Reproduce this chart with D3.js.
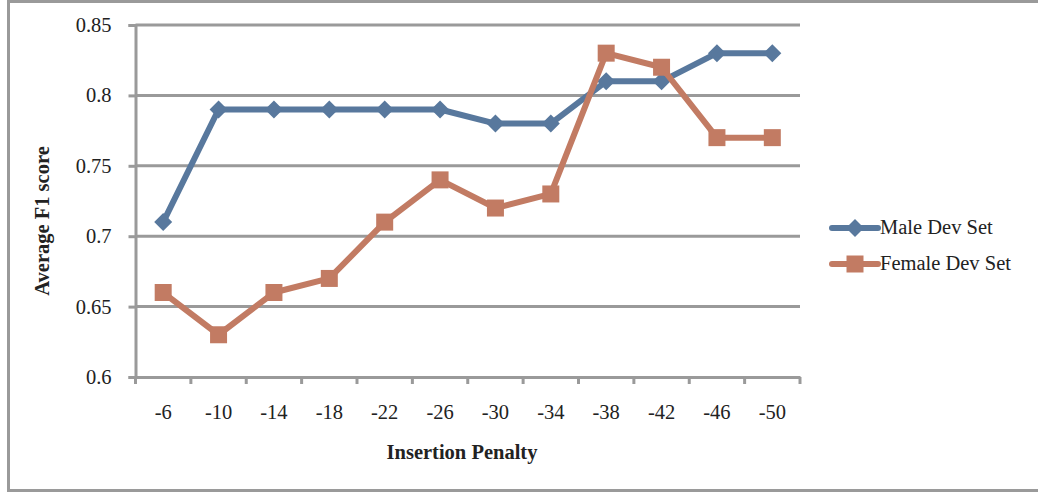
<!DOCTYPE html>
<html>
<head>
<meta charset="utf-8">
<script src="https://cdn.jsdelivr.net/npm/d3@7"></script>
<style>
  html, body { margin: 0; padding: 0; background: #fff; }
  svg { display: block; }
  svg text { font-family: "Liberation Serif", "Times New Roman", serif; }
</style>
</head>
<body>
<svg id="chart" width="1038" height="494"></svg>
<script>
// Insertion penalty settings along the x axis
const categories = ["-6", "-10", "-14", "-18", "-22", "-26", "-30", "-34", "-38", "-42", "-46", "-50"];
// Average F1 per development set
const maleValues   = [0.71, 0.79, 0.79, 0.79, 0.79, 0.79, 0.78, 0.78, 0.81, 0.81, 0.83, 0.83];
const femaleValues = [0.66, 0.63, 0.66, 0.67, 0.71, 0.74, 0.72, 0.73, 0.83, 0.82, 0.77, 0.77];
const yTicks = [0.6, 0.65, 0.7, 0.75, 0.8, 0.85];
const seriesNames = ["Male Dev Set", "Female Dev Set"];

const svg = d3.select("#chart");
const gray = "#9a9a9a";
const ink = "#222";
const fontSize = 20.5;
const colors = ["#58789d", "#c27b63"];

// chart frame
svg.append("rect")
  .attr("x", 8.5).attr("y", 1.5).attr("width", 1040).attr("height", 489)
  .attr("fill", "none").attr("stroke", gray).attr("stroke-width", 3);

const plot = { left: 135.5, right: 800, top: 25, bottom: 377 };

const x = d3.scaleBand().domain(categories).range([plot.left, plot.right]);
const y = d3.scaleLinear().domain([0.6, 0.85]).range([plot.bottom, plot.top]);

// horizontal gridlines
svg.append("g").selectAll("line").data(yTicks.slice(1)).join("line")
  .attr("x1", plot.left).attr("x2", plot.right)
  .attr("y1", d => y(d)).attr("y2", d => y(d))
  .attr("stroke", gray).attr("stroke-width", 3);

// y axis
const yAxis = svg.append("g")
  .attr("transform", `translate(${plot.left},0)`)
  .call(d3.axisLeft(y).tickValues(yTicks).tickFormat(d => String(+d.toFixed(2))).tickSize(7).tickPadding(17));
yAxis.attr("font-family", null).attr("font-size", null);
yAxis.select(".domain").attr("stroke", gray).attr("stroke-width", 3);
yAxis.selectAll(".tick line").attr("stroke", gray).attr("stroke-width", 3);
yAxis.selectAll(".tick text").style("font-size", fontSize + "px").attr("fill", ink);

// x axis
const xAxis = svg.append("g")
  .attr("transform", `translate(0,${plot.bottom})`)
  .call(d3.axisBottom(x).tickSize(0).tickPadding(27));
xAxis.attr("font-family", null).attr("font-size", null);
xAxis.select(".domain").attr("stroke", gray).attr("stroke-width", 3);
xAxis.selectAll(".tick text").style("font-size", fontSize + "px").attr("fill", ink);
// tick marks at category boundaries
const bounds = categories.map(c => x(c)).concat([plot.right]);
svg.append("g").selectAll("line").data(bounds).join("line")
  .attr("x1", d => d).attr("x2", d => d)
  .attr("y1", plot.bottom).attr("y2", plot.bottom + 7)
  .attr("stroke", gray).attr("stroke-width", 3);

// axis titles
svg.append("text")
  .attr("x", 462).attr("y", 459)
  .attr("text-anchor", "middle").style("font-size", fontSize + "px").attr("font-weight", "bold").attr("fill", ink)
  .text("Insertion Penalty");
svg.append("text")
  .attr("transform", "translate(49,221) rotate(-90)")
  .attr("text-anchor", "middle").style("font-size", fontSize + "px").attr("font-weight", "bold").attr("fill", ink)
  .text("Average F1 score");

const cx = c => x(c) + x.bandwidth() / 2;
const line = d3.line().x((d, i) => cx(categories[i])).y(d => y(d));

const diamond = s => `M0,${-s}L${s},0L0,${s}L${-s},0Z`;
const square = s => `M${-s},${-s}H${s}V${s}H${-s}Z`;

function drawSeries(values, color, shape) {
  const g = svg.append("g");
  g.append("path").datum(values)
    .attr("d", line).attr("fill", "none")
    .attr("stroke", color).attr("stroke-width", 6).attr("stroke-linejoin", "round");
  g.selectAll("path.marker").data(values).join("path")
    .attr("class", "marker")
    .attr("transform", (d, i) => `translate(${cx(categories[i])},${y(d)})`)
    .attr("d", shape).attr("fill", color);
}

drawSeries(maleValues, colors[0], diamond(9));
drawSeries(femaleValues, colors[1], square(8.5));

// legend
const legend = svg.append("g");
const legendY = [228, 264];
const shapes = [diamond(9), square(8.5)];
seriesNames.forEach((name, i) => {
  legend.append("line")
    .attr("x1", 832).attr("x2", 878).attr("y1", legendY[i]).attr("y2", legendY[i])
    .attr("stroke", colors[i]).attr("stroke-width", 6).attr("stroke-linecap", "round");
  legend.append("path")
    .attr("transform", `translate(855,${legendY[i]})`)
    .attr("d", shapes[i]).attr("fill", colors[i]);
  legend.append("text")
    .attr("x", 880).attr("y", legendY[i] + 6)
    .style("font-size", fontSize + "px").attr("fill", ink)
    .text(name);
});
</script>
</body>
</html>
